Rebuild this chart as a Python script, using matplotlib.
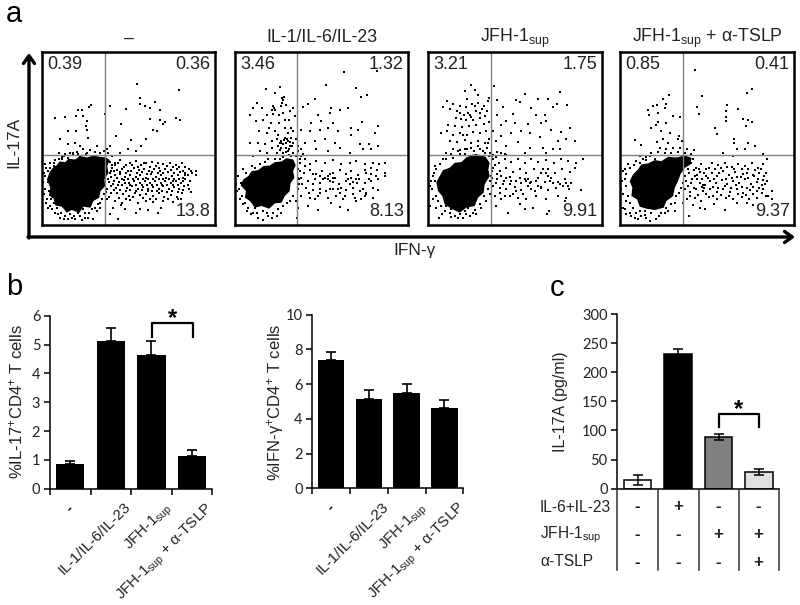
import matplotlib
matplotlib.use("Agg")
import matplotlib.pyplot as plt
from matplotlib.patches import Polygon

plt.rcParams['font.family'] = ['Liberation Sans', 'DejaVu Sans']
plt.rcParams['mathtext.fontset'] = 'custom'
plt.rcParams['mathtext.rm'] = 'Liberation Sans'
plt.rcParams['mathtext.default'] = 'rm'

W, H = 800, 605

# panel a, flow plots. channel values
flow_titles = ["–", "IL-1/IL-6/IL-23", "JFH-1$_{sup}$", "JFH-1$_{sup}$ + α-TSLP"]
quad_labels = [
    ["0.39", "0.36", "13.8"],
    ["3.46", "1.32", "8.13"],
    ["3.21", "1.75", "9.91"],
    ["0.85", "0.41", "9.37"],
]
gates = [(314, 468), (892, 468), (244, 468), (820, 468)]
x_ranges = [(125, 648), (705, 1226), (55, 577), (631, 1152)]
y_range = (677, 157)

# outlines of the solid black part of each cloud
core_1 = [(140,540),(148,518),(158,505),(170,497),(178,486),(195,488),(205,478),(225,480),(240,470),(262,474),(280,468),(300,472),(318,474),(330,482),(322,500),(326,520),(314,540),(316,560),(302,575),(298,595),(280,605),(272,625),(250,622),(238,640),(215,632),(200,640),(185,622),(165,618),(160,598),(146,588),(150,565)]
core_2 = [(722,558),(730,540),(745,530),(755,515),(775,512),(790,500),(810,498),(825,488),(845,486),(860,476),(880,480),(888,497),(880,515),(884,535),(872,552),(870,575),(855,590),(845,610),(825,612),(808,628),(785,620),(765,625),(750,605),(735,595),(738,575)]
core_3 = [(80,548),(90,530),(100,512),(120,505),(135,490),(155,488),(170,474),(190,465),(210,466),(228,472),(240,490),(236,510),(240,530),(225,555),(222,580),(205,595),(195,620),(170,625),(150,640),(125,628),(105,615),(98,590),(85,575)]
core_4 = [(660,545),(670,525),(685,510),(695,495),(715,492),(735,482),(755,485),(775,472),(800,474),(825,468),(845,475),(842,495),(825,505),(812,525),(805,545),(795,565),(790,590),(770,605),(762,625),(735,632),(710,628),(690,622),(682,600),(665,590),(668,565)]

dots_1 = [
    (413,252),(538,270),(421,295),(420,312),(437,318),(452,325),(468,308),(482,330),(378,327),(330,320),(272,315),(267,322),
    (245,330),(235,330),(315,342),(250,350),(228,350),(195,352),(163,356),(260,365),(258,380),(262,390),(205,393),(228,393),
    (450,357),(482,362),(497,367),(490,372),(530,355),(543,362),(365,372),(460,392),(472,395),(348,408),(395,422),(178,420),
    (265,415),(225,432),(205,435),(240,440),(290,440),(330,440),(320,450),(440,420),(425,440),(410,455),(385,450),(360,460),
    (250,448),(270,452),(285,458),(300,462),(312,456),(325,462),(232,458),(218,462),(195,465),(176,462),(258,465),(240,470),
    (332,488),(345,496),(362,482),(378,498),(392,490),(410,485),(425,497),(440,492),(458,488),(470,500),(490,495),(512,490),
    (530,497),(548,490),(338,505),(352,512),(368,508),(385,515),(402,505),(418,512),(433,508),(448,516),(465,510),(482,515),
    (498,508),(515,513),(532,508),(552,515),(570,510),(590,515),(330,522),(346,528),(360,525),(375,532),(392,526),(408,534),
    (422,528),(438,535),(455,525),(470,533),(486,528),(500,536),(518,530),(535,526),(550,535),(565,528),(578,522),(592,526),
    (326,540),(342,545),(358,548),(372,542),(388,550),(404,545),(420,552),(436,546),(452,552),(468,545),(484,551),(498,545),
    (514,552),(530,546),(545,551),(558,540),(572,545),(335,560),(350,565),(367,558),(382,566),(398,560),(414,568),(430,562),
    (446,570),(462,562),(478,568),(492,560),(508,570),(524,562),(540,570),(555,560),(570,570),(318,578),(334,582),(352,580),
    (370,585),(388,590),(405,580),(422,588),(440,584),(460,590),(478,582),(495,592),(515,586),(532,592),(548,582),(320,600),
    (345,605),(368,610),(392,602),(415,612),(438,605),(462,608),(490,604),(520,608),(545,600),(575,578),(340,625),(375,630),
    (420,628),(445,632),(485,625),(355,660),(330,645),(365,618),(410,640),(475,640),
    (135,495),(142,515),(150,505),(160,490),(175,478),(190,470),(205,475),(220,468),(135,530),(142,548),(133,570),(146,575),
    (152,598),(160,612),(140,600),(170,625),(182,640),(165,640),(195,650),(210,645),(225,660),(240,650),(255,640),(265,655),
    (280,660),(275,630),(295,615),(305,600),(312,585),(200,635),(215,655),(235,640),(250,630),(148,620),(137,612),(180,655),
    (155,560),(162,500),(290,635),(300,625),(245,662),(190,660),(205,625),(270,612),
    # second pass over the dense band
    (336,496),(355,490),(372,503),(398,497),(415,503),(432,490),(450,502),(476,492),(503,500),(520,502),(540,502),(558,503),
    (342,516),(360,518),(378,522),(395,515),(411,522),(426,518),(441,524),(458,517),(475,522),(491,520),(507,518),(524,520),
    (541,518),(558,522),(574,515),(335,533),(352,536),(368,538),(384,538),(400,540),(416,538),(430,540),(446,540),(462,538),
    (478,540),(492,538),(508,540),(524,538),(540,538),(556,528),(340,553),(356,556),(376,552),(392,556),(410,556),(426,556),
    (443,558),(458,556),(474,556),(488,556),(504,558),(520,556),(537,556),(552,545),(566,556),(343,572),(360,572),(378,574),
    (392,572),(408,574),(426,572),(444,576),(458,574),(472,575),(488,574),(503,578),(518,574),(535,578),(552,572),(328,592),
    (358,595),(378,598),(400,592),(430,596),(450,598),(470,600),(505,598),(536,600),(345,490),(480,505),(520,545),
    (130,520),(138,505),(148,490),(165,482),(185,478),(128,548),(131,585),(142,625),(155,630),(172,645),(205,658),(222,650),
    (255,655),(268,642),(285,625),(300,612),(320,570),(328,548),(335,515),(338,470),(260,462),(235,465),(210,462),(185,472),
]
dots_2 = [
    (1032,218),(1132,215),(978,255),(1068,265),(1085,292),(1102,285),(840,263),(798,267),(826,280),(846,295),(852,292),(772,310),
    (760,325),(785,325),(800,345),(820,320),(825,332),(818,342),(845,320),(860,315),(870,335),(880,325),(885,350),(868,360),
    (850,340),(838,370),(812,370),(790,362),(768,365),(750,345),(778,395),(800,400),(825,395),(855,385),(875,385),(750,430),
    (775,430),(795,435),(815,425),(832,420),(845,430),(855,415),(865,425),(870,440),(880,430),(860,445),(845,445),(835,440),
    (888,420),(830,460),(850,460),(865,455),(880,462),(895,455),(910,465),(905,450),(780,455),(800,460),(815,445),(760,470),
    (910,322),(945,298),(925,312),(995,325),(1020,330),(1045,325),(955,345),(990,340),(935,370),(965,365),(1000,370),(905,390),
    (930,395),(960,390),(985,385),(1015,395),(1075,390),(1055,385),(1087,368),(1135,378),(1127,400),(1055,405),(915,430),(945,425),
    (975,420),(1005,430),(1080,435),(1110,435),(1135,440),(950,450),(985,455),(1020,445),(1090,448),(1115,450),(1050,460),
    (900,490),(915,478),(930,495),(950,485),(975,490),(1000,482),(1025,495),(1050,490),(1070,485),(1095,495),(1120,490),(1140,495),
    (1158,492),(895,510),(912,520),(930,512),(950,525),(968,515),(985,530),(1000,520),(1020,512),(1040,525),(1055,515),(1075,528),
    (1095,512),(1115,525),(1132,512),(1158,520),(905,535),(925,545),(945,540),(962,552),(985,540),(1000,548),(1018,555),(1045,540),
    (1060,548),(1078,540),(1095,552),(1115,545),(1135,538),(1158,530),(898,555),(918,565),(940,572),(960,568),(980,575),(1000,568),
    (1020,580),(1040,572),(1060,565),(1080,575),(1100,580),(1120,565),(1135,572),(905,590),(930,595),(955,590),(985,595),(1010,590),
    (1030,600),(1065,595),(1095,590),(1120,595),(925,620),(955,632),(995,610),(1020,622),(1045,632),(1070,605),(1085,600),
    (715,530),(722,550),(712,575),(725,590),(735,610),(745,625),(760,640),(775,655),(790,662),(805,650),(820,640),(835,630),
    (850,620),(870,605),(880,590),(892,655),(730,510),(755,500),(780,495),(805,480),(825,478),(850,472),(875,470),(720,600),
    (765,625),(790,635),(815,655),(845,640),(740,635),(895,625),
    # second pass, clusters seen in the picture
    (845,425),(850,435),(858,432),(862,420),(875,415),(870,428),(840,432),(852,422),(878,440),(868,448),(858,458),(842,452),
    (822,325),(815,330),(850,300),(847,310),(838,345),(855,360),(808,385),(835,405),(866,400),(880,395),(895,440),(905,470),
    (895,535),(902,515),(915,500),(940,525),(960,530),(975,535),(992,525),(1005,535),(1040,545),(1055,535),(1050,555),(1068,540),
    (1072,550),(1000,535),(990,545),(970,538),(1090,570),(1100,585),(1110,540),(940,555),(960,580),(990,570),(1015,570),(1025,565),
    (1100,520),(1115,505),(1130,530),(908,555),(928,580),(945,600),(1035,590),(1060,585),
    (708,555),(718,570),(728,615),(752,645),(770,640),(800,642),(830,650),(862,610),(888,605),(895,570),(898,540),(738,520),
    (765,505),(795,488),(840,478),(868,468),(888,470),(900,480),
]
dots_3 = [
    (185,255),(195,270),(205,285),(254,260),(165,275),(172,298),(238,295),(112,305),(130,312),(150,318),(168,322),(188,312),
    (205,310),(222,318),(235,305),(100,322),(122,328),(142,335),(162,345),(180,345),(198,335),(218,328),(232,335),(138,355),
    (155,358),(190,362),(210,355),(115,375),(135,378),(158,382),(178,380),(200,375),(222,372),(238,368),(95,400),(112,395),
    (130,405),(150,400),(172,405),(190,398),(212,400),(230,395),(120,425),(142,428),(165,422),(185,430),(205,425),(225,430),
    (238,418),(130,450),(150,452),(172,448),(192,455),(212,450),(232,445),(110,462),(165,465),(200,468),(225,460),(240,462),
    (262,302),(280,322),(320,300),(347,283),(332,308),(385,297),(415,297),(450,278),(430,322),(442,312),(472,315),(310,342),
    (365,325),(378,345),(405,345),(410,365),(262,345),(290,365),(275,375),(315,370),(355,372),(395,370),(250,395),(275,410),
    (305,400),(335,395),(362,400),(392,412),(425,390),(455,398),(482,385),(495,425),(470,420),(445,425),(258,425),(290,440),
    (325,428),(362,445),(400,445),(430,450),(345,462),(262,458),(285,465),(410,462),(450,450),
    (250,480),(268,490),(285,478),(305,488),(325,480),(345,492),(365,478),(385,488),(410,482),(432,490),(455,478),(475,485),
    (498,492),(520,480),(250,505),(270,515),(290,505),(310,518),(330,508),(350,520),(372,510),(395,522),(415,508),(435,520),
    (458,510),(480,518),(495,505),(245,530),(262,540),(282,545),(300,532),(320,545),(345,540),(365,548),(385,535),(405,548),
    (425,535),(445,548),(465,538),(485,550),(250,560),(270,565),(290,570),(315,562),(335,572),(355,560),(375,575),(395,562),
    (415,572),(440,565),(460,560),(478,570),(515,573),(255,590),(275,600),(300,590),(325,595),(350,600),(380,590),(410,598),
    (445,590),(470,595),(260,620),(295,640),(330,615),(370,625),(412,645),(418,635),(465,605),(345,630),
    (65,545),(72,520),(80,510),(92,495),(110,480),(130,475),(150,465),(68,570),(78,590),(62,620),(85,605),(95,620),(105,635),
    (120,640),(135,650),(88,655),(150,645),(165,635),(180,650),(195,632),(210,615),(222,590),(235,570),(240,545),(160,655),
    (125,628),(70,530),(200,645),(175,625),(110,620),(238,470),(250,468),
    # second pass, clusters seen in the picture
    (175,340),(183,352),(170,360),(150,340),(195,320),(212,340),(225,348),(160,405),(205,440),(185,445),(220,455),(235,430),
    (248,470),(258,472),(275,462),(290,468),(255,498),(262,525),(275,530),(290,535),(305,545),(330,535),(350,545),(355,540),
    (360,550),(385,560),(395,565),(400,510),(410,520),(415,530),(420,545),(260,550),(280,555),(300,555),(320,575),(340,585),
    (365,570),(380,545),(430,550),(450,555),(468,552),(475,560),(270,580),(285,590),(310,585),(335,550),(248,515),
    (60,560),(75,545),(70,600),(80,625),(98,645),(125,652),(145,655),(170,645),(190,640),(215,625),(230,605),(242,585),
    (248,535),(75,500),(100,480),(125,465),(145,455),(165,450),
]
dots_4 = [
    (857,212),(1025,268),(1012,280),(778,285),(760,297),(877,290),(952,315),(862,322),(985,327),(867,343),(948,335),(948,352),
    (947,365),(1000,358),(1015,362),(1027,368),(1007,380),(915,385),(922,402),(742,315),(730,320),(768,312),(716,330),(718,347),
    (745,340),(765,325),(790,350),(810,352),(738,375),(745,368),(770,370),(725,385),(755,395),(780,400),(808,408),(972,418),
    (972,432),(1015,432),(1035,440),(980,450),(1005,448),(677,423),(695,437),(742,428),(760,420),(775,430),(805,420),(818,425),
    (752,445),(770,450),(790,445),(812,445),(832,448),(852,452),(725,460),(745,458),(765,462),(785,460),(805,458),(825,462),
    (845,465),(938,462),(970,470),(1060,465),(1072,478),(692,470),(710,472),
    (845,490),(860,505),(875,495),(890,510),(905,492),(925,498),(945,490),(965,502),(985,495),(1005,500),(1025,490),(1045,505),
    (1060,495),(838,520),(855,530),(872,518),(888,530),(905,520),(922,530),(940,515),(958,528),(975,518),(992,532),(1010,520),
    (1028,528),(1048,520),(1062,530),(828,545),(845,550),(862,540),(880,558),(882,565),(900,545),(918,550),(935,542),(952,555),
    (970,545),(988,552),(1005,540),(1022,555),(1040,548),(1055,558),(1072,545),(825,570),(842,578),(860,568),(880,575),(900,570),
    (920,578),(940,568),(960,578),(980,570),(1000,580),(1020,572),(1040,575),(1060,570),(1085,575),(832,600),(855,595),(875,605),
    (898,592),(920,600),(948,595),(970,600),(995,592),(1018,600),(1042,595),(1068,590),(1085,600),(850,618),(885,630),(912,615),
    (945,632),(980,612),(1012,610),(1030,618),(838,650),(870,625),
    (640,515),(650,525),(660,505),(672,498),(690,490),(710,482),(735,478),(638,545),(648,560),(640,585),(655,590),(660,610),
    (640,625),(670,625),(680,640),(695,650),(710,655),(725,642),(740,660),(755,640),(770,625),(785,615),(800,590),(815,565),
    (825,530),(765,640),(690,635),(705,635),(650,645),(675,655),(820,610),(795,635),
    # second pass over the dense band
    (852,512),(868,508),(882,520),(898,505),(915,510),(932,506),(950,502),(972,510),(995,510),(1015,508),(1035,512),(1052,510),
    (846,538),(862,526),(878,540),(895,535),(912,540),(928,520),(948,538),(965,535),(980,532),(998,525),(1015,535),(1032,530),
    (1045,538),(1058,542),(1068,520),(835,560),(852,565),(870,552),(878,562),(886,558),(908,562),(925,565),(945,560),(962,565),
    (978,558),(995,562),(1012,565),(1030,562),(1048,565),(1065,555),(840,590),(865,588),(888,585),(910,590),(932,588),(958,590),
    (985,585),(1008,588),(1030,585),(1055,582),(1075,590),
    (632,535),(645,510),(655,495),(680,485),(700,478),(720,470),(645,540),(635,570),(650,605),(645,630),(660,640),(685,660),
    (720,665),(748,650),(775,635),(795,610),(808,580),(820,550),(835,510),(850,478),(630,600),(665,650),(705,648),
]
all_core = [core_1, core_2, core_3, core_4]
all_dots = [dots_1, dots_2, dots_3, dots_4]
box_px = [(42, 215), (235, 408), (428, 602), (620, 794)]

# panel b
cats = ["-", "IL-1/IL-6/IL-23", "JFH-1$_{sup}$", "JFH-1$_{sup}$ + α-TSLP"]
il17_vals = [0.87, 5.12, 4.65, 1.12]
il17_err = [0.09, 0.47, 0.46, 0.21]
ifn_vals = [7.4, 5.15, 5.5, 4.65]
ifn_err = [0.45, 0.5, 0.52, 0.42]

# panel c
c_vals = [15, 232, 89, 29]
c_err = [8, 8, 5, 5]
c_colors = ["white", "black", "#808080", "#e0e0e0"]
c_rows = ["IL-6+IL-23", "JFH-1$_{sup}$", "α-TSLP"]
c_marks = [["-", "+", "-", "-"], ["-", "-", "+", "+"], ["-", "-", "-", "+"]]


def px_axes(fig, left, top, right, bottom):
    return fig.add_axes([left / W, 1 - bottom / H, (right - left) / W, (bottom - top) / H])


def bar_panel(fig, box, vals, err, yticks, ymax):
    ax = px_axes(fig, *box)
    x = [i + 0.5 for i in range(4)]
    ax.bar(x, vals, width=0.7, color="black")
    ax.errorbar(x, vals, yerr=[[0] * 4, err], fmt="none", ecolor="black", elinewidth=1.2, capsize=3.5, capthick=1.2)
    ax.set_xlim(0, 4)
    ax.set_ylim(0, ymax)
    ax.set_xticks(range(5))
    ax.set_xticklabels([])
    ax.set_yticks(yticks)
    ax.set_yticklabels(yticks, family="Lato", fontsize=10.5, color="#222222")
    ax.tick_params(length=4, width=1.1, pad=3)
    ax.spines[["top", "right"]].set_visible(False)
    ax.spines[["left", "bottom"]].set_linewidth(1.1)
    for xc, lab in zip(x, cats):
        if lab == "-":
            # the dash sits lower and to the left of the other labels
            ax.annotate(lab, xy=(xc, 0), xytext=(-1, -14), textcoords="offset points", rotation=45,
                        rotation_mode="anchor", ha="center", va="center", fontsize=11, fontweight="bold")
        else:
            ax.annotate(lab, xy=(xc, 0), xytext=(9, -8), textcoords="offset points", rotation=45,
                        rotation_mode="anchor", ha="right", va="top", fontsize=11, color="#222222")
    return ax


fig = plt.figure(figsize=(W / 100, H / 100), dpi=100)

over = fig.add_axes([0, 0, 1, 1], zorder=10)
over.set_xlim(0, W)
over.set_ylim(H, 0)
over.axis("off")

# flow plots
for i in range(4):
    left, right = box_px[i]
    ax = px_axes(fig, left, 52, right, 225)
    ax.add_patch(Polygon(all_core[i], closed=True, color="black", lw=0))
    ax.scatter([p[0] for p in all_dots[i]], [p[1] for p in all_dots[i]], s=1.0, c="black", marker="s", linewidths=0)
    ax.axvline(gates[i][0], color="#808080", lw=1)
    ax.axhline(gates[i][1], color="#808080", lw=1)
    ax.set_xlim(*x_ranges[i])
    ax.set_ylim(*y_range)
    ax.set_xticks([])
    ax.set_yticks([])
    for s in ax.spines.values():
        s.set_linewidth(1.8)
    ul, ur, lr = quad_labels[i]
    ax.text(0.03, 0.975, ul, transform=ax.transAxes, fontsize=13, ha="left", va="top", color="#222222")
    ax.text(0.975, 0.975, ur, transform=ax.transAxes, fontsize=13, ha="right", va="top", color="#222222")
    ax.text(0.975, 0.03, lr, transform=ax.transAxes, fontsize=13, ha="right", va="bottom", color="#222222")
    over.text((left + right) / 2, 38, flow_titles[i], fontsize=12.8, ha="center", va="center", color="#222222")

# big arrows of panel a
arrow = dict(arrowstyle="->,head_length=0.55,head_width=0.4", lw=2.4, color="black", shrinkA=0, shrinkB=0)
over.annotate("", xy=(29, 53), xytext=(29, 238), arrowprops=arrow)
over.annotate("", xy=(795, 237), xytext=(28, 237), arrowprops=arrow)
over.text(14, 142, "IL-17A", fontsize=12.5, rotation=90, ha="center", va="center", color="#222222")
over.text(415, 251, "IFN-γ", fontsize=12.5, ha="center", va="center", color="#222222")

over.text(14, 14, "a", fontsize=21, ha="center", va="center")
over.text(14, 287, "b", fontsize=21, ha="center", va="center")
over.text(557, 288, "c", fontsize=21, ha="center", va="center")

# panel b
bar_panel(fig, (50, 315.7, 212.3, 488.7), il17_vals, il17_err, [0, 1, 2, 3, 4, 5, 6], 6)
bar_panel(fig, (312.3, 314.7, 463.3, 488.3), ifn_vals, ifn_err, [0, 2, 4, 6, 8, 10], 10)
over.text(16, 402, "%IL-17$^{+}$CD4$^{+}$ T cells", fontsize=12, rotation=90, ha="center", va="center", color="#222222")
over.text(275, 402, "%IFN-γ$^{+}$CD4$^{+}$ T cells", fontsize=12, rotation=90, ha="center", va="center", color="#222222")
over.plot([152, 152, 193, 193], [337, 323, 323, 337], color="black", lw=1.6)
over.text(173, 319, "*", fontsize=17, ha="center", va="center", fontweight="bold")

# panel c
ax = px_axes(fig, 617.3, 314, 779.3, 488.7)
x = [i + 0.5 for i in range(4)]
ax.bar(x, c_vals, width=0.68, color=c_colors, edgecolor="black", linewidth=1.1)
ax.errorbar(x, c_vals, yerr=c_err, fmt="none", ecolor="black", elinewidth=1.1, capsize=3.5, capthick=1.1)
ax.set_xlim(0, 4)
ax.set_ylim(0, 300)
ax.set_xticks([])
ax.set_yticks(range(0, 301, 50))
ax.set_yticklabels(range(0, 301, 50), family="Lato", fontsize=10.5, color="#222222")
ax.tick_params(length=4, width=1.1, pad=3)
ax.spines[["top", "right"]].set_visible(False)
ax.spines[["left", "bottom"]].set_linewidth(1.1)
over.text(560, 402, "IL-17A (pg/ml)", fontsize=11.5, rotation=90, ha="center", va="center", color="#222222")
over.plot([718.7, 718.7, 759.3, 759.3], [426.7, 414, 414, 426.7], color="black", lw=1.6)
over.text(738, 410, "*", fontsize=17, ha="center", va="center", fontweight="bold")

for xd in [617.3, 657.7, 699.3, 738.7, 779.3]:
    over.plot([xd, xd], [488.7, 570], color="#333333", lw=1.1)
row_y = [507, 535, 562]
col_x = [637, 677.7, 718, 758.3]
for r, yy in enumerate(row_y):
    over.text(540, yy, c_rows[r], fontsize=11.2, ha="left", va="center", color="#222222")
    for c, xx in enumerate(col_x):
        over.text(xx, yy, c_marks[r][c], fontsize=12, fontweight="bold", ha="center", va="center", color="#222222")

fig.savefig("out.png", dpi=100)
